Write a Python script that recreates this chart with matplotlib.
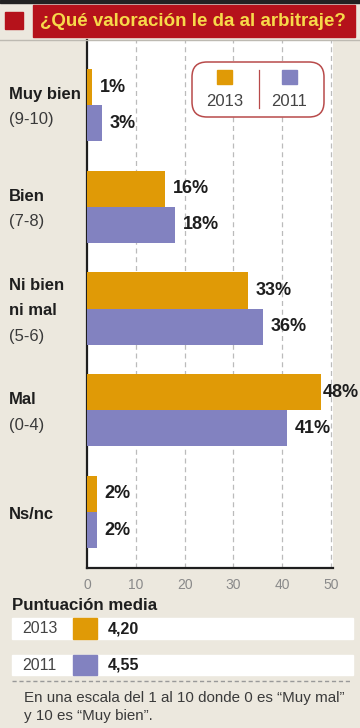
import matplotlib
matplotlib.use("Agg")
import matplotlib.pyplot as plt
from matplotlib.patches import Rectangle, FancyBboxPatch
import numpy as np

plt.rcParams['font.family'] = ['Liberation Sans', 'DejaVu Sans']

categories = ["Muy bien", "Bien", "Ni bien\nni mal", "Mal", "Ns/nc"]
ranges = ["(9-10)", "(7-8)", "(5-6)", "(0-4)", ""]
vals_2013 = [1, 16, 33, 48, 2]
vals_2011 = [3, 18, 36, 41, 2]
series_names = ["2013", "2011"]
mean_scores = ["4,20", "4,55"]
xticks = [0, 10, 20, 30, 40, 50]
title = "¿Qué valoración le da al arbitraje?"
subtitle = "Puntuación media"
footnote = "En una escala del 1 al 10 donde 0 es “Muy mal”\ny 10 es “Muy bien”."

ORANGE = "#E09A06"
PURPLE = "#8282C0"
BG = "#ECE8DE"
RED = "#B5121B"
YELLOW = "#F7D94A"
DARK = "#1E1E1E"

W, H = 360, 728
fig = plt.figure(figsize=(W / 100, H / 100), dpi=100, facecolor=BG)

# overlay axes in pixel coordinates for decoration
ov = fig.add_axes([0, 0, 1, 1], zorder=5)
ov.set_xlim(0, W)
ov.set_ylim(H, 0)
ov.axis("off")
ov.patch.set_alpha(0)

def fx(px):
    return px / W

def fy(py):
    return 1 - py / H

# top black strip
ov.add_patch(Rectangle((0, 0), W, 3, color="#222222"))
ov.plot([0, W], [40, 40], color="#BDBAB2", lw=1)
# red square and title box
ov.add_patch(Rectangle((5, 12), 18, 17, color=RED))
ov.add_patch(Rectangle((33, 5), 322, 32, color=RED))
ov.text(40, 21.5, title, color=YELLOW, fontsize=13.5, fontweight="bold", va="center", ha="left")

# main axes
ax = fig.add_axes([fx(87), fy(568), fx(333 - 87), (568 - 40) / H])
ax.set_facecolor("white")
n = len(categories)
y = np.arange(n)
h = 0.355
ax.barh(y - h / 2, vals_2013, height=h, color=ORANGE, zorder=3)
ax.barh(y + h / 2, vals_2011, height=h, color=PURPLE, zorder=3)
ax.set_xlim(0, 50.4)
ax.set_ylim(4.55, -0.64)
ax.set_yticks([])
ax.set_xticks(xticks)
ax.set_xticklabels([str(t) for t in xticks], color="#8A8A8A", fontsize=10)
ax.tick_params(axis="x", length=0, pad=7)
for t in xticks[1:]:
    ax.axvline(t, color="#BBBBBB", lw=0.9, ls=(0, (4, 3)), zorder=1)
for s in ["top", "right"]:
    ax.spines[s].set_visible(False)
for s in ["left", "bottom"]:
    ax.spines[s].set_linewidth(1.6)
    ax.spines[s].set_color(DARK)

def label(v, yy):
    off = 5.5 if v < 45 else 0.8
    ax.annotate(f"{v}%", (v, yy), xytext=(off, 0), textcoords="offset points",
                va="center", ha="left", fontsize=13, fontweight="bold", color=DARK, annotation_clip=False)

for i in range(n):
    label(vals_2013[i], y[i] - h / 2)
    label(vals_2011[i], y[i] + h / 2)

# category labels in left margin
lab_tr = matplotlib.transforms.blended_transform_factory(fig.transFigure, ax.transData)
for i in range(n):
    lines = categories[i].split("\n")
    rng = ranges[i]
    total = len(lines) + (1 if rng else 0)
    step = 0.25
    start = y[i] - step * (total - 1) / 2 + 0.02
    for j, ln in enumerate(lines):
        ax.text(fx(9), start + j * step, ln, transform=lab_tr, ha="left", va="center",
                fontsize=12, fontweight="bold", color=DARK)
    if rng:
        ax.text(fx(9), start + len(lines) * step, rng, transform=lab_tr, ha="left", va="center",
                fontsize=12, color="#3A3A3A")

# legend
ov.add_patch(FancyBboxPatch((192, 62), 132, 55, boxstyle="round,pad=0,rounding_size=15",
                            facecolor="white", edgecolor="#B84A4A", lw=1.1))
ov.add_patch(Rectangle((217, 70), 15, 14, color=ORANGE))
ov.add_patch(Rectangle((282, 70), 15, 14, color=PURPLE))
ov.plot([259, 259], [70, 108], color="#B84A4A", lw=0.9)
ov.text(224.5, 101.5, series_names[0], fontsize=12, color="#444444", ha="center", va="center")
ov.text(289.5, 101.5, series_names[1], fontsize=12, color="#444444", ha="center", va="center")

# bottom section
ov.text(12, 605, subtitle, fontsize=12.2, fontweight="bold", color=DARK, ha="left", va="center")
rows_y = [(618, 639), (655, 675)]
cols = [ORANGE, PURPLE]
for k, (y0, y1) in enumerate(rows_y):
    ov.add_patch(Rectangle((12, y0), 341, y1 - y0, color="white"))
    ov.add_patch(Rectangle((73, y0), 24, y1 - y0, color=cols[k]))
    yc = (y0 + y1) / 2
    ov.text(22, yc, series_names[k], fontsize=11.5, color="#444444", ha="left", va="center")
    ov.text(108, yc, mean_scores[k], fontsize=11.5, fontweight="bold", color=DARK, ha="left", va="center")

ov.plot([12, 352], [681, 681], color="#999999", lw=1, ls=(0, (3, 2)))
ov.text(24, 707, footnote, fontsize=10.9, color="#3A3A3A", ha="left", va="center", linespacing=1.45)

fig.savefig("out.png", dpi=100, facecolor=BG)
